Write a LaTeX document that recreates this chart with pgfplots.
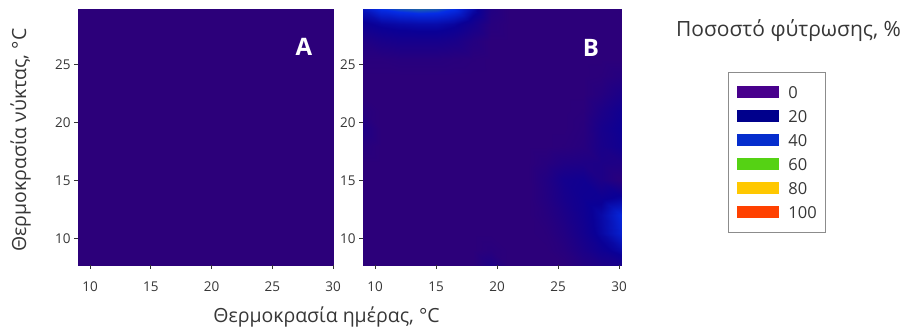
\documentclass[border=0pt]{standalone}
\usepackage{pgfplots}
\pgfplotsset{compat=1.18}
\usepackage{fontspec}
\setmainfont{Open Sans}
\definecolor{lc0}{RGB}{72,0,140}
\definecolor{lc20}{RGB}{0,0,140}
\definecolor{lc40}{RGB}{5,45,205}
\definecolor{lc60}{RGB}{85,210,20}
\definecolor{lc80}{RGB}{255,200,0}
\definecolor{lc100}{RGB}{255,65,0}
\definecolor{txt}{RGB}{55,55,55}
\pgfplotsset{
  panel/.style={
    scale only axis, height=256pt,
    xmin=9, ymin=7.7, ymax=29.8,
    enlargelimits=false,
    xtick={10,15,20,25,30}, ytick={10,15,20,25},
    tick align=outside, xtick pos=bottom, ytick pos=left,
    major tick length=4pt,
    every tick/.style={color=black!80, line width=0.8pt},
    axis line style={draw=none},
    ticklabel style={font=\fontsize{13.5}{15}\selectfont, text=txt},
    xticklabel style={yshift=-9pt},
    /pgf/number format/assume math mode=true,
    colormap={germ}{rgb255(0)=(44,0,122) rgb255(20)=(10,0,150) rgb255(40)=(5,45,230) rgb255(60)=(85,210,20) rgb255(80)=(255,200,0) rgb255(100)=(255,65,0)},
    point meta min=0, point meta max=100,
    axis on top,
  }
}
\begin{document}
\begin{tikzpicture}
\useasboundingbox (0,0) rectangle (904pt,332pt);
\begin{axis}[panel, at={(78pt,67pt)}, anchor=south west, width=255pt, xmax=30]
\addplot[surf, shader=interp, mesh/cols=2, point meta=explicit] table[x=x, y=y, meta=z] {
x y z
9 7.7 0
30 7.7 0
9 29.8 0
30 29.8 0
};
\end{axis}
\begin{axis}[panel, at={(363pt,67pt)}, anchor=south west, width=258pt, xmax=30.15,
  legend style={at={(axis description cs:1.415,0.754)}, anchor=north west,
    draw=black!45, line width=0.7pt, fill=white,
    font=\fontsize{16.5}{18}\selectfont, text=txt,
    inner xsep=9pt, inner ysep=14pt, row sep=12pt, column sep=9pt,
    nodes={text height=12pt, text depth=0pt, inner sep=0pt}},
  legend cell align=left,
  legend image code/.code={\fill[#1, draw=none] (0pt,-6pt) rectangle (42pt,6pt);},
]
\addplot[surf, shader=interp, mesh/cols=15, point meta=explicit, forget plot] table[x=x, y=y, meta=z] {
x y z
9 7.7 0
10.5 7.7 0
12 7.7 0
13.5 7.7 0
15 7.7 0
16.5 7.7 0
18 7.7 0
19.5 7.7 8
21 7.7 0
22.5 7.7 0
24 7.7 0
25.5 7.7 0
27 7.7 5
28.5 7.7 9
30.15 7.7 12
9 9 0
10.5 9 0
12 9 0
13.5 9 0
15 9 0
16.5 9 0
18 9 0
19.5 9 2
21 9 0
22.5 9 0
24 9 0
25.5 9 3
27 9 10
28.5 9 17
30.15 9 24
9 10.5 0
10.5 10.5 0
12 10.5 0
13.5 10.5 0
15 10.5 0
16.5 10.5 0
18 10.5 0
19.5 10.5 0
21 10.5 0
22.5 10.5 0
24 10.5 1
25.5 10.5 6
27 10.5 14
28.5 10.5 23
30.15 10.5 34
9 12 0
10.5 12 0
12 12 0
13.5 12 0
15 12 0
16.5 12 0
18 12 0
19.5 12 0
21 12 0
22.5 12 0
24 12 3
25.5 12 9
27 12 16
28.5 12 24
30.15 12 37
9 13.5 0
10.5 13.5 0
12 13.5 0
13.5 13.5 0
15 13.5 0
16.5 13.5 0
18 13.5 0
19.5 13.5 0
21 13.5 0
22.5 13.5 0
24 13.5 5
25.5 13.5 12
27 13.5 17
28.5 13.5 18
30.15 13.5 22
9 15 0
10.5 15 0
12 15 0
13.5 15 0
15 15 0
16.5 15 0
18 15 0
19.5 15 0
21 15 0
22.5 15 0
24 15 6
25.5 15 14
27 15 16
28.5 15 9
30.15 15 2
9 16.5 0
10.5 16.5 0
12 16.5 0
13.5 16.5 0
15 16.5 0
16.5 16.5 0
18 16.5 0
19.5 16.5 0
21 16.5 0
22.5 16.5 0
24 16.5 3
25.5 16.5 7
27 16.5 8
28.5 16.5 9
30.15 16.5 8
9 18 3
10.5 18 0
12 18 0
13.5 18 0
15 18 0
16.5 18 0
18 18 0
19.5 18 0
21 18 0
22.5 18 0
24 18 0
25.5 18 1
27 18 3
28.5 18 11
30.15 18 16
9 19.5 8
10.5 19.5 0
12 19.5 0
13.5 19.5 0
15 19.5 0
16.5 19.5 0
18 19.5 0
19.5 19.5 0
21 19.5 0
22.5 19.5 0
24 19.5 0
25.5 19.5 0
27 19.5 2
28.5 19.5 12
30.15 19.5 18
9 21 3
10.5 21 0
12 21 0
13.5 21 0
15 21 0
16.5 21 0
18 21 0
19.5 21 0
21 21 0
22.5 21 0
24 21 0
25.5 21 0
27 21 1
28.5 21 9
30.15 21 16
9 22.5 0
10.5 22.5 0
12 22.5 0
13.5 22.5 0
15 22.5 0
16.5 22.5 0
18 22.5 0
19.5 22.5 0
21 22.5 0
22.5 22.5 0
24 22.5 0
25.5 22.5 0
27 22.5 0
28.5 22.5 4
30.15 22.5 10
9 24 0
10.5 24 0
12 24 0
13.5 24 0
15 24 0
16.5 24 0
18 24 0
19.5 24 0
21 24 0
22.5 24 0
24 24 0
25.5 24 0
27 24 0
28.5 24 1
30.15 24 4
9 25.5 2
10.5 25.5 2
12 25.5 3
13.5 25.5 3
15 25.5 3
16.5 25.5 2
18 25.5 1
19.5 25.5 0
21 25.5 0
22.5 25.5 0
24 25.5 0
25.5 25.5 0
27 25.5 0
28.5 25.5 0
30.15 25.5 0
9 27 7
10.5 27 11
12 27 13
13.5 27 13
15 27 13
16.5 27 11
18 27 5
19.5 27 0
21 27 0
22.5 27 0
24 27 0
25.5 27 0
27 27 0
28.5 27 0
30.15 27 0
9 28.5 18
10.5 28.5 22
12 28.5 24
13.5 28.5 25
15 28.5 25
16.5 28.5 22
18 28.5 14
19.5 28.5 3
21 28.5 0
22.5 28.5 0
24 28.5 0
25.5 28.5 0
27 28.5 0
28.5 28.5 0
30.15 28.5 0
9 29.8 30
10.5 29.8 40
12 29.8 44
13.5 29.8 46
15 29.8 45
16.5 29.8 40
18 29.8 25
19.5 29.8 6
21 29.8 0
22.5 29.8 0
24 29.8 0
25.5 29.8 0
27 29.8 0
28.5 29.8 0
30.15 29.8 0
};
\addlegendimage{fill=lc0}\addlegendentry{0}
\addlegendimage{fill=lc20}\addlegendentry{20}
\addlegendimage{fill=lc40}\addlegendentry{40}
\addlegendimage{fill=lc60}\addlegendentry{60}
\addlegendimage{fill=lc80}\addlegendentry{80}
\addlegendimage{fill=lc100}\addlegendentry{100}
\end{axis}
\node[font=\fontsize{24}{28}\selectfont\bfseries, text=white] at (304pt,285pt) {A};
\node[font=\fontsize{24}{28}\selectfont\bfseries, text=white] at (591pt,284pt) {B};
\node[font=\fontsize{19.5}{22}\selectfont, text=txt, anchor=base] at (326.5pt,10pt) {Θερμοκρασία ημέρας, °C};
\node[font=\fontsize{19.5}{22}\selectfont, text=txt, anchor=base, rotate=90] at (26pt,192pt) {Θερμοκρασία νύκτας, °C};
\node[font=\fontsize{21}{24}\selectfont, text=txt, anchor=base] at (788.5pt,295pt) {Ποσοστό φύτρωσης, \%};
\end{tikzpicture}
\end{document}
